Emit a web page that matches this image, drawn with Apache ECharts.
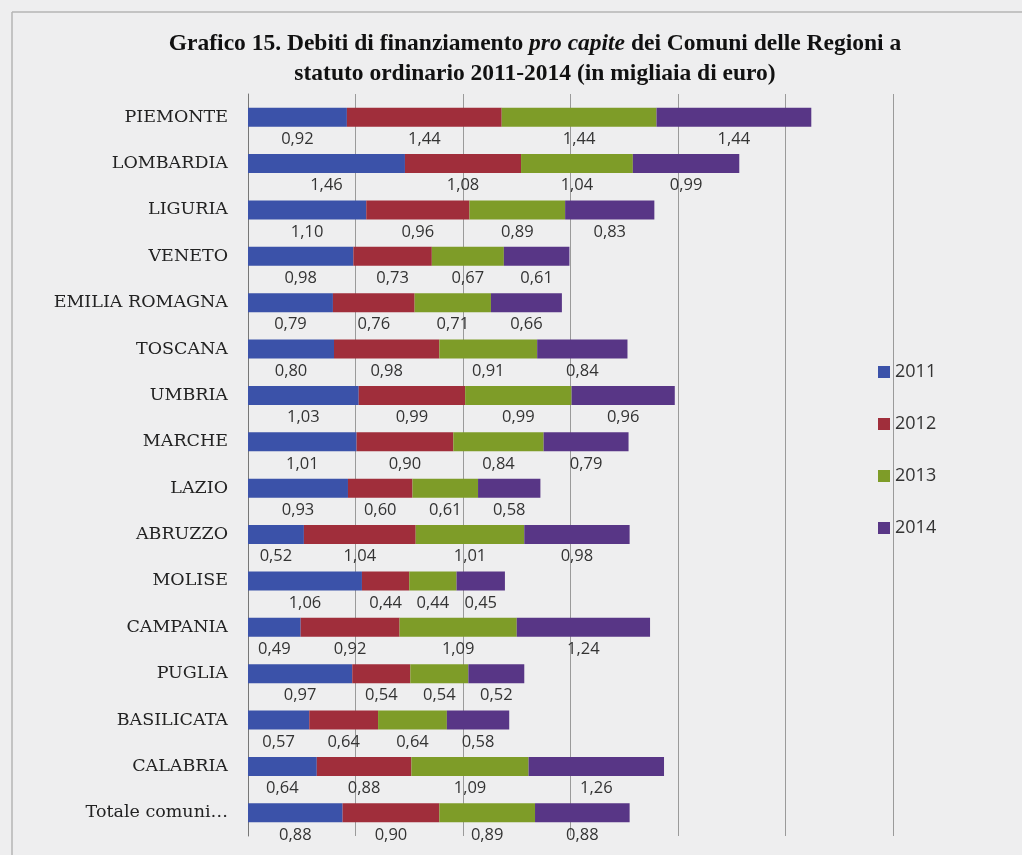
<!DOCTYPE html>
<html><head><meta charset="utf-8">
<script src="https://cdn.jsdelivr.net/npm/echarts@6/dist/echarts.min.js"></script>
<style>html,body{margin:0;padding:0;background:#eeeeef}#c{width:1022px;height:855px}</style>
</head><body><div id="c"></div>
<script>
const categories = ['PIEMONTE','LOMBARDIA','LIGURIA','VENETO','EMILIA ROMAGNA','TOSCANA','UMBRIA','MARCHE','LAZIO','ABRUZZO','MOLISE','CAMPANIA','PUGLIA','BASILICATA','CALABRIA','Totale comuni…'];
const years = ['2011','2012','2013','2014'];
const v2011 = [0.92,1.46,1.10,0.98,0.79,0.80,1.03,1.01,0.93,0.52,1.06,0.49,0.97,0.57,0.64,0.88];
const v2012 = [1.44,1.08,0.96,0.73,0.76,0.98,0.99,0.90,0.60,1.04,0.44,0.92,0.54,0.64,0.88,0.90];
const v2013 = [1.44,1.04,0.89,0.67,0.71,0.91,0.99,0.84,0.61,1.01,0.44,1.09,0.54,0.64,1.09,0.89];
const v2014 = [1.44,0.99,0.83,0.61,0.66,0.84,0.96,0.79,0.58,0.98,0.45,1.24,0.52,0.58,1.26,0.88];
const seriesValues = [v2011, v2012, v2013, v2014];
const colors = ['#3b52a9','#a02e3b','#7e9c28','#583686'];

const chart = echarts.init(document.getElementById('c'));
chart.setOption({
  backgroundColor: '#eeeeef',
  animation: false,
  title: {
    left: 530, textAlign: 'center', top: 24,
    text: '{b|Grafico 15. Debiti di finanziamento }{i|pro capite}{b| dei Comuni delle Regioni a}\n{b|statuto ordinario 2011-2014 (in migliaia di euro)}',
    textStyle: {
      rich: {
        b: {fontFamily: 'Liberation Serif', fontWeight: 'bold', fontSize: 23.5, color: '#111', lineHeight: 30},
        i: {fontFamily: 'Liberation Serif', fontWeight: 'bold', fontStyle: 'italic', fontSize: 23.5, color: '#111', lineHeight: 30}
      }
    }
  },
  legend: {
    orient: 'vertical', left: 873, top: 358, itemGap: 34,
    itemWidth: 12, itemHeight: 12, icon: 'rect', itemTextGap: 6,
    textStyle: {fontFamily: 'Open Sans', fontSize: 18, color: '#333'},
    data: years
  },
  grid: {left: 248, top: 94, width: 645, height: 742, containLabel: false},
  xAxis: {
    type: 'value', min: 0, max: 6, interval: 1,
    axisLabel: {show: false}, axisLine: {show: false}, axisTick: {show: false},
    splitLine: {lineStyle: {color: '#9a9a9a', width: 1}}
  },
  yAxis: {
    type: 'category', inverse: true, data: categories,
    axisLine: {lineStyle: {color: '#777', width: 1}},
    axisTick: {show: false},
    axisLabel: {fontFamily: 'DejaVu Serif', fontSize: 17.5, color: '#222', margin: 20}
  },
  series: years.map((y, i) => ({
    name: y, type: 'bar', stack: 'tot', barWidth: 19,
    itemStyle: {color: colors[i]},
    data: seriesValues[i],
    label: {
      show: true, position: 'bottom', distance: 4,
      fontFamily: 'Open Sans', fontSize: 16.5, color: '#333',
      formatter: p => p.value.toFixed(2).replace('.', ',')
    }
  })),
  graphic: [
    {type: 'line', shape: {x1: 12, y1: 12, x2: 1022, y2: 12}, style: {stroke: '#b5b5b5', lineWidth: 1.5}},
    {type: 'line', shape: {x1: 12, y1: 12, x2: 12, y2: 855}, style: {stroke: '#b5b5b5', lineWidth: 1.5}}
  ]
});
</script></body></html>
